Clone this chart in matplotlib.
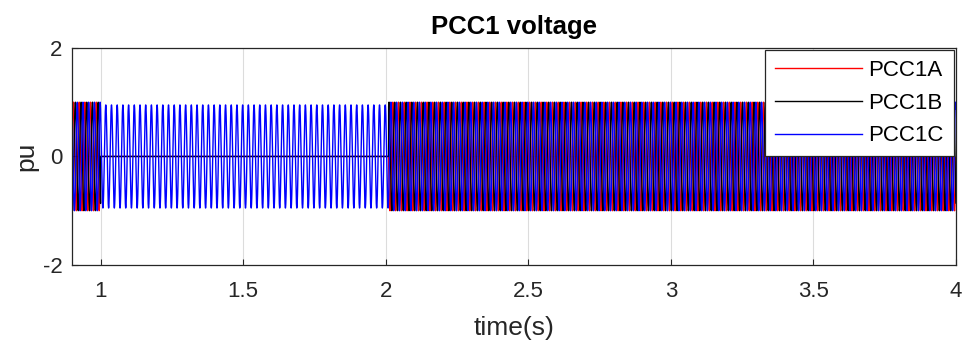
import numpy as np
import matplotlib
matplotlib.use("Agg")
import matplotlib.pyplot as plt

plt.rcParams['font.family'] = ['Liberation Sans', 'DejaVu Sans']
plt.rcParams['axes.unicode_minus'] = False

# Data (waveform description)
freq_hz = 50.0
seg_edges = [0.9, 1.0, 2.01, 4.0]          # segment boundaries (s)
amp_A = [1.0, 0.0, 1.0]                    # PCC1A amplitude per segment (pu)
amp_B = [1.0, 0.0, 1.0]                    # PCC1B amplitude per segment (pu)
amp_C = [1.0, 0.95, 1.0]                   # PCC1C amplitude per segment (pu)
phase_deg = [0.0, -120.0, 120.0]
series_names = ['PCC1A', 'PCC1B', 'PCC1C']
series_colors = ['#ff0000', '#000000', '#0000ff']
xticks = [1, 1.5, 2, 2.5, 3, 3.5, 4]
xtick_labels = ['1', '1.5', '2', '2.5', '3', '3.5', '4']
yticks = [-2, 0, 2]

t = np.arange(seg_edges[0], seg_edges[-1], 1.0 / 20000)
seg_idx = np.clip(np.searchsorted(seg_edges, t, side='right') - 1, 0, len(seg_edges) - 2)

fig = plt.figure(figsize=(9.63, 3.45), dpi=100)
ax = fig.add_axes([0.0748, 0.232, 0.9179, 0.629])

for amps, ph, name, col in zip([amp_A, amp_B, amp_C], phase_deg, series_names, series_colors):
    a = np.asarray(amps)[seg_idx]
    v = a * np.sin(2 * np.pi * freq_hz * t + np.deg2rad(ph))
    ax.plot(t, v, color=col, lw=1.0, label=name)

ax.set_xlim(0.9, 4)
ax.set_ylim(-2, 2)
ax.set_xticks(xticks)
ax.set_xticklabels(xtick_labels)
ax.set_yticks(yticks)
ax.grid(True, color='#dcdcdc', lw=0.8)
ax.set_axisbelow(True)
ax.tick_params(direction='in', labelsize=16, length=4, width=0.8, top=False, right=False,
               colors='#262626')
ax.tick_params(axis='x', pad=11.5)
ax.tick_params(axis='y', pad=7)
for s in ax.spines.values():
    s.set_color('#262626')
    s.set_linewidth(0.9)
ax.set_xlabel('time(s)', fontsize=19, color='#262626', labelpad=10)
ax.set_ylabel('pu', fontsize=19, color='#262626', labelpad=3)
ax.set_title('PCC1 voltage', fontsize=18.5, fontweight='bold', pad=10)

leg = ax.legend(loc='upper right', fontsize=16, frameon=True, fancybox=False,
                edgecolor='#262626', handlelength=3.9, borderaxespad=0.1,
                labelspacing=0.52, handletextpad=0.3, borderpad=0.45)
leg.get_frame().set_linewidth(0.9)
leg.get_frame().set_alpha(1.0)

fig.savefig('out.png', dpi=100)
